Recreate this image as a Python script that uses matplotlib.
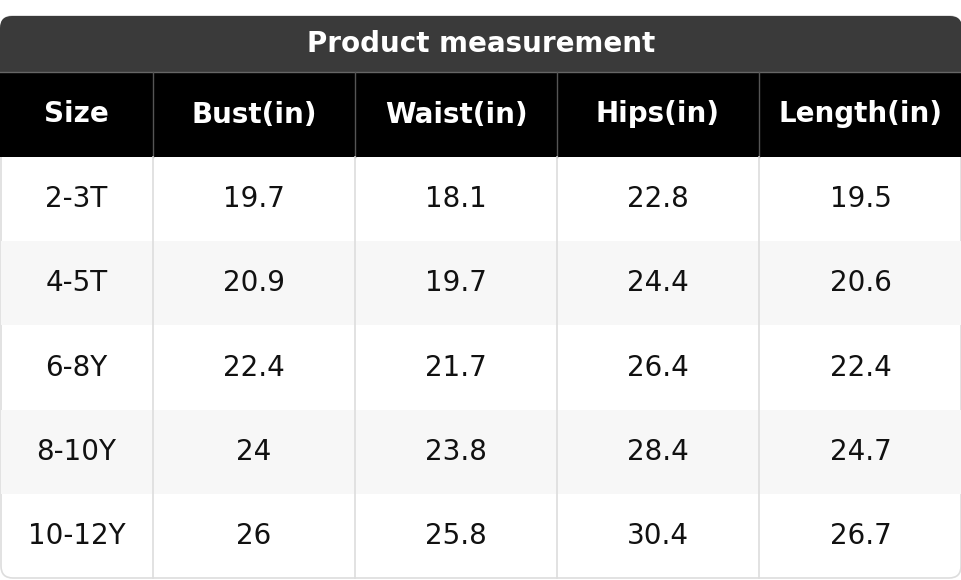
import matplotlib
matplotlib.use("Agg")
import matplotlib.pyplot as plt
from matplotlib.patches import FancyBboxPatch, Rectangle

title = "Product measurement"
headers = ["Size", "Bust(in)", "Waist(in)", "Hips(in)", "Length(in)"]
sizes = ["2-3T", "4-5T", "6-8Y", "8-10Y", "10-12Y"]
bust = ["19.7", "20.9", "22.4", "24", "26"]
waist = ["18.1", "19.7", "21.7", "23.8", "25.8"]
hips = ["22.8", "24.4", "26.4", "28.4", "30.4"]
length = ["19.5", "20.6", "22.4", "24.7", "26.7"]

W, H = 962, 580
fig = plt.figure(figsize=(W/100, H/100), dpi=100)
ax = fig.add_axes([0, 0, 1, 1])
ax.set_xlim(0, W); ax.set_ylim(H, 0); ax.axis("off")

col_edges = [0, 153, 355, 557, 759, 962]
top, title_b, head_b, bottom = 16, 72, 157, 578
row_h = (bottom - head_b) / len(sizes)

ax.add_patch(FancyBboxPatch((1, top), W-2, bottom-top, boxstyle="round,pad=0,rounding_size=12",
                            fc="white", ec="#dddddd", lw=1.2, zorder=0))
ax.add_patch(FancyBboxPatch((0, top), W, 40, boxstyle="round,pad=0,rounding_size=12",
                            fc="#3a3a3a", ec="none", zorder=1))
ax.add_patch(Rectangle((0, top+20), W, title_b-top-20, fc="#3a3a3a", ec="none", zorder=1))
ax.text(W/2, (top+title_b)/2, title, color="white", fontsize=20, fontweight="bold",
        ha="center", va="center", zorder=3)
ax.plot([0, W], [title_b, title_b], color="#666666", lw=1, zorder=2)
ax.add_patch(Rectangle((0, title_b), W, head_b-title_b, fc="black", ec="none", zorder=1))

for i, h in enumerate(headers):
    cx = (col_edges[i] + col_edges[i+1]) / 2
    ax.text(cx, (title_b+head_b)/2, h, color="white", fontsize=20, fontweight="bold",
            ha="center", va="center", zorder=3)

cols = [sizes, bust, waist, hips, length]
for r in range(len(sizes)):
    y0 = head_b + r*row_h
    if r % 2 == 1:
        ax.add_patch(Rectangle((1, y0), W-2, row_h, fc="#f7f7f7", ec="none", zorder=1))
    for c, vals in enumerate(cols):
        cx = (col_edges[c] + col_edges[c+1]) / 2
        ax.text(cx, y0 + row_h/2, vals[r], color="#111111", fontsize=20,
                ha="center", va="center", zorder=3)

for x in col_edges[1:-1]:
    ax.plot([x, x], [title_b, head_b], color="#555555", lw=1, zorder=2)
    ax.plot([x, x], [head_b, bottom], color="#dddddd", lw=1.2, zorder=2)

fig.savefig("out.png", dpi=100)
